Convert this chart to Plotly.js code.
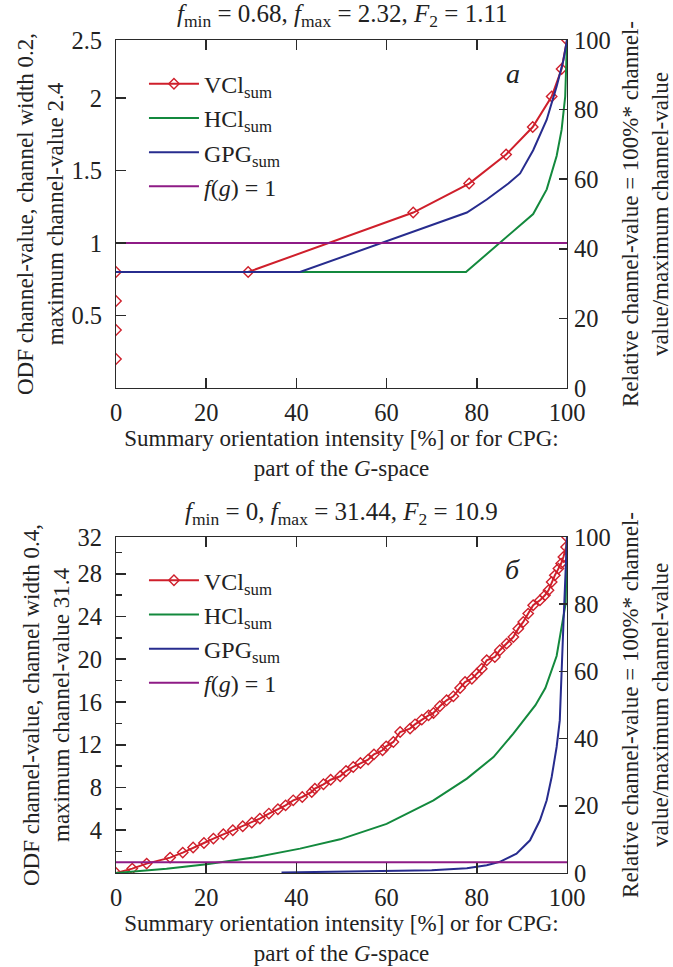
<!DOCTYPE html>
<html>
<head>
<meta charset="utf-8">
<script src="https://cdn.plot.ly/plotly-3.0.1.min.js"></script>
<style>html,body{margin:0;padding:0;background:#fff;}#chart{width:673px;height:967px;}</style>
</head>
<body>
<div id="chart"></div>
<script>
// ---------- Panel a ----------
const a_vcl_x = [0, null, 0, null, 0, null, 0, 29.3, 65.9, 78.3, 86.5, 92.4, 96.6, 98.8, 100];
const a_vcl_y = [0.2, null, 0.4, null, 0.6, null, 0.8, 0.8, 1.21, 1.41, 1.61, 1.80, 2.01, 2.20, 2.4];
const a_hcl_x = [0, 77.6, 92.5, 95.5, 97.7, 98.8, 99.6, 99.9, 100];
const a_hcl_y = [0.8, 0.8, 1.2, 1.37, 1.6, 1.78, 2.01, 2.24, 2.4];
const a_gpg_x = [0, 40.8, 77.8, 82.2, 87.0, 89.6, 92.5, 95.5, 97.7, 99.2, 100];
const a_gpg_y = [0.8, 0.8, 1.21, 1.30, 1.41, 1.48, 1.64, 1.85, 2.08, 2.26, 2.4];
const a_one_x = [0, 100];
const a_one_y = [1, 1];

// ---------- Panel b ----------
const b_vcl_x = [0, 3.6, 6.8, 12.0, 14.8, 17.1, 19.5, 21.6, 23.8, 25.9, 28.1, 30.1, 31.9, 33.9, 35.9, 37.6, 39.3,
  41.3, 43.4, 44.1, 46.0, 47.6, 49.7, 51.0, 52.6, 54.2, 55.9, 57.2, 59.1, 59.9, 61.5, 63.0, 65.2, 66.3, 67.8,
  69.3, 70.4, 71.8, 73.3, 74.8, 76.3, 77.4, 78.9, 80.0, 81.1, 82.2, 84.0, 85.1, 86.6, 88.1, 89.2, 90.3, 91.4,
  92.5, 94.0, 95.1, 95.9, 96.6, 97.3, 98.1, 98.7, 99.2, 99.8, 100];
const b_vcl_y = [0, 0.41, 0.88, 1.44, 1.91, 2.38, 2.81, 3.22, 3.62, 4.0, 4.37, 4.71, 5.09, 5.56, 5.96, 6.33, 6.8,
  7.11, 7.58, 7.89, 8.3, 8.73, 9.05, 9.54, 9.92, 10.29, 10.61, 11.1, 11.48, 11.85, 12.26, 13.19, 13.51, 13.91, 14.35,
  14.75, 14.97, 15.6, 16.16, 16.53, 17.31, 17.87, 18.18, 18.65, 19.12, 19.9, 20.21, 20.84, 21.46, 22.08, 22.86, 23.49, 24.27,
  25.05, 25.51, 25.98, 26.45, 27.23, 27.85, 28.48, 28.95, 29.57, 30.5, 31.44];
const b_hcl_x = [0, 11.2, 20.1, 30.5, 40.8, 49.7, 60.0, 63.0, 70.4, 77.8, 83.7, 88.1, 90.7, 93.0, 95.2, 97.7, 98.8, 99.7, 100];
const b_hcl_y = [0, 0.4, 0.81, 1.45, 2.28, 3.15, 4.6, 5.24, 6.8, 8.83, 10.85, 13.04, 14.4, 15.7, 17.3, 20.3, 23.0, 25.2, 31.44];
const b_gpg_x = [36.7, 48.0, 60.0, 70.0, 77.8, 80.0, 82.2, 85.1, 88.8, 91.8, 94.0, 95.5, 96.6, 97.7, 98.4, 99.2, 100];
const b_gpg_y = [0.05, 0.1, 0.15, 0.25, 0.45, 0.56, 0.72, 1.05, 1.81, 3.06, 4.93, 6.8, 8.98, 11.79, 14.28, 23.2, 31.44];
const b_one_x = [0, 100];
const b_one_y = [1, 1];

// ---------- labels ----------
const names = ['VCl<sub>sum</sub>', 'HCl<sub>sum</sub>', 'GPG<sub>sum</sub>', '<i>f</i>(<i>g</i>) = 1'];
const xTicks = [0, 20, 40, 60, 80, 100];
const rTicks = [0, 20, 40, 60, 80, 100];
const aLeftVals = [0.5, 1, 1.5, 2, 2.4];
const aLeftText = ['0.5', '1', '1.5', '2', '2.5'];
const bLeftVals = [4, 8, 12, 16, 20, 24, 28, 31.44];
const bLeftText = ['4', '8', '12', '16', '20', '24', '28', '32'];
const bMinorVals = [2, 6, 10, 14, 18, 22, 26, 30];
const titleA = '<i>f</i><sub>min</sub> = 0.68, <i>f</i><sub>max</sub> = 2.32, <i>F</i><sub>2</sub> = 1.11';
const titleB = '<i>f</i><sub>min</sub> = 0, <i>f</i><sub>max</sub> = 31.44, <i>F</i><sub>2</sub> = 10.9';
const xTitle = 'Summary orientation intensity [%] or for CPG:<br>part of the <i>G</i>-space';
const yTitleA = 'ODF channel-value, channel width 0.2,<br>maximum channel-value 2.4';
const yTitleB = 'ODF channel-value, channel width 0.4,<br>maximum channel-value 31.4';
const rTitle = 'Relative channel-value = 100%* channel-<br>value/maximum channel-value';

const RED = '#cf1f2b', GREEN = '#13893d', BLUE = '#272c8e', MAG = '#8e1b86';
const FONT = '"Liberation Serif", "Times New Roman", serif';
const AX = '#2a2a2a';
const TXT = '#222';

function tr(x, y, name, color, xa, ya, leg, markers) {
  const t = {x: x, y: y, name: name, type: 'scatter', xaxis: xa, yaxis: ya, legend: leg,
    mode: markers ? 'lines+markers' : 'lines', line: {color: color, width: 2}};
  if (markers) t.marker = {symbol: 'diamond-open', size: 8, color: color, line: {color: color, width: 1.4}};
  return t;
}
// empty carrier traces so the right-hand (relative %) axes are drawn
function carrier(xa, ya) {
  return {x: [], y: [], type: 'scatter', xaxis: xa, yaxis: ya, showlegend: false};
}

const data = [
  tr(a_vcl_x, a_vcl_y, names[0], RED, 'x', 'y', 'legend', true),
  tr(a_hcl_x, a_hcl_y, names[1], GREEN, 'x', 'y', 'legend', false),
  tr(a_gpg_x, a_gpg_y, names[2], BLUE, 'x', 'y', 'legend', false),
  tr(a_one_x, a_one_y, names[3], MAG, 'x', 'y', 'legend', false),
  carrier('x', 'y2'),
  tr(b_vcl_x, b_vcl_y, names[0], RED, 'x2', 'y3', 'legend2', true),
  tr(b_hcl_x, b_hcl_y, names[1], GREEN, 'x2', 'y3', 'legend2', false),
  tr(b_gpg_x, b_gpg_y, names[2], BLUE, 'x2', 'y3', 'legend2', false),
  tr(b_one_x, b_one_y, names[3], MAG, 'x2', 'y3', 'legend2', false),
  carrier('x2', 'y4')
];

function base() {
  return {ticks: 'inside', ticklen: 10, tickwidth: 1.6, tickcolor: AX, showline: true,
    linecolor: AX, showgrid: false, zeroline: false,
    tickfont: {family: FONT, size: 24.5, color: TXT}};
}
function xAxis(anchor) {
  return Object.assign(base(), {anchor: anchor, domain: [0, 1], range: [0, 100], tickmode: 'array', tickvals: xTicks,
    mirror: 'ticks', ticklabelstandoff: 3,
    title: {text: xTitle, font: {family: FONT, size: 23, color: TXT}, standoff: 4}});
}
function rAxis(over, anchor) {
  return Object.assign(base(), {overlaying: over, anchor: anchor, side: 'right', range: [0, 100],
    tickmode: 'array', tickvals: rTicks, ticklen: 8, ticklabelstandoff: 1,
    title: {text: rTitle, font: {family: FONT, size: 23, color: TXT}, standoff: 13}});
}

const layout = {
  width: 673, height: 967,
  margin: {l: 116, r: 106, t: 40, b: 94},
  xaxis: xAxis('y'),
  yaxis: Object.assign(base(), {domain: [0.5822, 1], anchor: 'x', range: [0, 2.4],
    tickmode: 'array', tickvals: aLeftVals, ticktext: aLeftText, ticklabelstandoff: 8,
    title: {text: yTitleA, font: {family: FONT, size: 23, color: TXT}, standoff: 1}}),
  yaxis2: rAxis('y', 'x'),
  xaxis2: xAxis('y3'),
  yaxis3: Object.assign(base(), {domain: [0, 0.4034], anchor: 'x2', range: [0, 31.44],
    tickmode: 'array', tickvals: bLeftVals, ticktext: bLeftText, ticklabelstandoff: 8,
    minor: {tickmode: 'array', tickvals: bMinorVals, ticks: 'inside', ticklen: 6, tickwidth: 1.6, tickcolor: AX},
    title: {text: yTitleB, font: {family: FONT, size: 23, color: TXT}, standoff: 1}}),
  yaxis4: rAxis('y3', 'x2'),
  legend: {x: 0.062, y: 0.974, xanchor: 'left', yanchor: 'top', bgcolor: 'rgba(0,0,0,0)',
    font: {family: FONT, size: 24, color: TXT}, tracegroupgap: 0, itemwidth: 50},
  legend2: {x: 0.062, y: 0.378, xanchor: 'left', yanchor: 'top', bgcolor: 'rgba(0,0,0,0)',
    font: {family: FONT, size: 24, color: TXT}, tracegroupgap: 0, itemwidth: 50},
  annotations: [
    {text: titleA, xref: 'paper', yref: 'paper', x: 0.5, y: 1.030, xanchor: 'center', yanchor: 'middle',
      showarrow: false, font: {family: FONT, size: 25, color: TXT}},
    {text: titleB, xref: 'paper', yref: 'paper', x: 0.5, y: 0.431, xanchor: 'center', yanchor: 'middle',
      showarrow: false, font: {family: FONT, size: 25, color: TXT}},
    {text: '<i>а</i>', xref: 'paper', yref: 'paper', x: 0.880, y: 0.960, xanchor: 'center', yanchor: 'middle',
      showarrow: false, font: {family: FONT, size: 28, color: TXT}},
    {text: '<i>б</i>', xref: 'paper', yref: 'paper', x: 0.880, y: 0.364, xanchor: 'center', yanchor: 'middle',
      showarrow: false, font: {family: FONT, size: 28, color: TXT}}
  ]
};

Plotly.newPlot('chart', data, layout, {displayModeBar: false, staticPlot: true});
</script>
</body>
</html>
